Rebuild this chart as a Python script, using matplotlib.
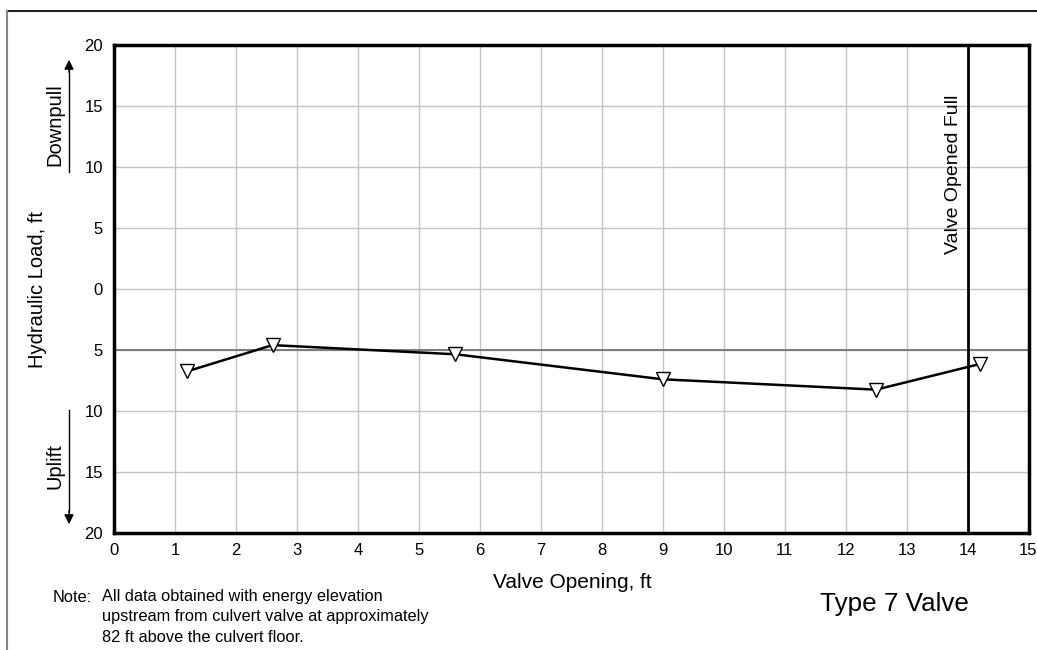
import matplotlib
matplotlib.use("Agg")
import matplotlib.pyplot as plt
from matplotlib.lines import Line2D

plt.rcParams['font.family'] = ['Liberation Sans', 'DejaVu Sans']

# Data
valve_opening = [1.2, 2.6, 5.6, 9.0, 12.5, 14.2]
hydraulic_load = [-6.75, -4.6, -5.35, -7.4, -8.25, -6.15]
x_ticks = list(range(0, 16))
y_ticks = [-20, -15, -10, -5, 0, 5, 10, 15, 20]
y_tick_labels = ["20", "15", "10", "5", "0", "5", "10", "15", "20"]
full_open = 14

W, H = 1037, 650
fig = plt.figure(figsize=(W / 100, H / 100), dpi=100)

def fx(px):
    return px / W

def fy(py):
    return 1 - py / H

ax = fig.add_axes([fx(114), fy(533), (1028.5 - 114) / W, (533 - 45) / H])
ax.set_xlim(0, 15)
ax.set_ylim(-20, 20)
ax.set_xticks(x_ticks)
ax.set_yticks(y_ticks)
ax.set_yticklabels(y_tick_labels)
ax.tick_params(length=0, labelsize=12)
ax.tick_params(axis='y', pad=8)
ax.tick_params(axis='x', pad=7)
ax.grid(True, color='#c4c4c4', lw=1)
ax.set_axisbelow(True)
ax.axhline(-5, color='#7a7a7a', lw=1.4, zorder=1)
for s in ax.spines.values():
    s.set_linewidth(2.5)
    s.set_color('black')

ax.axvline(full_open, color='black', lw=2, zorder=2)

ax.plot(valve_opening, hydraulic_load, color='black', lw=1.8,
        marker='v', markersize=10, markerfacecolor='white',
        markeredgecolor='black', markeredgewidth=1, zorder=3)

# Labels
fig.text(fx(38), fy(289), "Hydraulic Load, ft", rotation=90, fontsize=14.5,
         ha='center', va='center')
fig.text(fx(572), fy(582), "Valve Opening, ft", fontsize=15,
         ha='center', va='center')
fig.text(fx(954), fy(95), "Valve Opened Full", rotation=90, fontsize=14,
         ha='center', va='top')

# Downpull / Uplift annotations
fig.text(fx(55), fy(125), "Downpull", rotation=90, fontsize=14.5,
         ha='center', va='center')
fig.text(fx(55), fy(466), "Uplift", rotation=90, fontsize=14.5,
         ha='center', va='center')
fig.add_artist(Line2D([fx(69), fx(69)], [fy(172), fy(70)], color='black', lw=1,
                      transform=fig.transFigure))
fig.add_artist(Line2D([fx(69), fx(69)], [fy(410), fy(512)], color='black', lw=1,
                      transform=fig.transFigure))
ax.annotate("", xy=(fx(69), fy(57)), xytext=(fx(69), fy(75)),
            xycoords='figure fraction', textcoords='figure fraction',
            arrowprops=dict(arrowstyle='-|>', color='black', lw=1,
                            mutation_scale=14))
ax.annotate("", xy=(fx(69), fy(527)), xytext=(fx(69), fy(508)),
            xycoords='figure fraction', textcoords='figure fraction',
            arrowprops=dict(arrowstyle='-|>', color='black', lw=1,
                            mutation_scale=14))

# Note
note_fs = 11.8
fig.text(fx(53), fy(597), "Note:", fontsize=note_fs, ha='left', va='center')
fig.text(fx(102.5), fy(597), "All data obtained with energy elevation",
         fontsize=note_fs, ha='left', va='center')
fig.text(fx(102.5), fy(617), "upstream from culvert valve at approximately",
         fontsize=note_fs, ha='left', va='center')
fig.text(fx(102.5), fy(637), "82 ft above the culvert floor.",
         fontsize=note_fs, ha='left', va='center')

fig.text(fx(820), fy(611), "Type 7 Valve", fontsize=18.7, ha='left',
         va='baseline')

# Figure border
fig.add_artist(Line2D([fx(7), 1], [fy(11), fy(11)], color='#222222', lw=1.5,
                      transform=fig.transFigure))
fig.add_artist(Line2D([fx(7), fx(7)], [fy(11), 0], color='#888888', lw=1.5,
                      transform=fig.transFigure))

fig.savefig("out.png", dpi=100)
